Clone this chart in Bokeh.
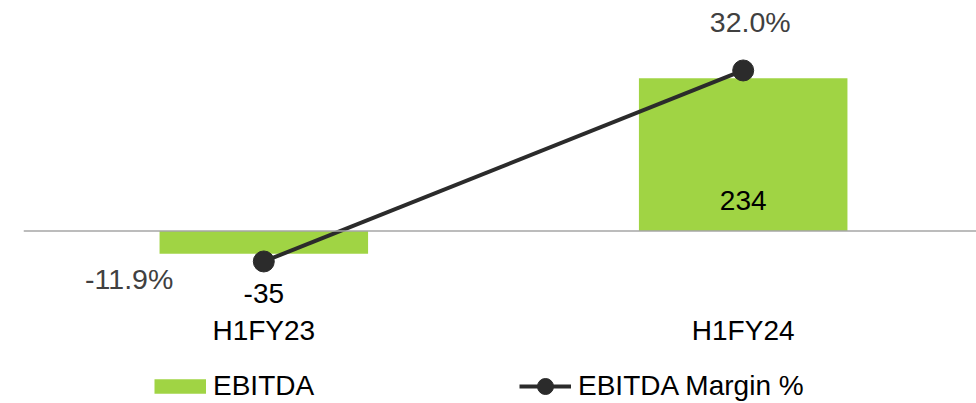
from bokeh.plotting import figure
from bokeh.layouts import column
from bokeh.models import (Range1d, Span, Legend, LegendItem, FixedTicker,
                          ColumnDataSource)
from bokeh.core.properties import value
from bokeh.embed import file_html
from bokeh.resources import INLINE

# ---- data ----
categories = ["H1FY23", "H1FY24"]
ebitda = [-35, 234]
margin = [-11.9, 32.0]
ebitda_labels = ["-35", "234"]
margin_labels = ["-11.9%", "32.0%"]
series_names = ["EBITDA", "EBITDA Margin %"]

# ---- styles ----
FONT = "Liberation Sans"
BAR = "#A0D444"
LINE = "#2B2B2B"
ZERO = "#A6A6A6"

xs = list(range(len(categories)))

p = figure(width=976, height=356, output_backend="svg", toolbar_location=None,
           x_range=Range1d(-0.5013, 1.4867), y_range=Range1d(-115.6, 353.0),
           y_axis_location=None,
           min_border_left=23, min_border_right=0, min_border_top=0,
           min_border_bottom=50, outline_line_color=None)
p.extra_y_ranges = {"pct": Range1d(-22.25, 48.08)}
p.xgrid.visible = False
p.ygrid.visible = False

ax = p.xaxis[0]
ax.ticker = FixedTicker(ticks=xs)
ax.major_label_overrides = {i: c for i, c in zip(xs, categories)}
ax.axis_line_color = None
ax.major_tick_line_color = None
ax.minor_tick_line_color = None
ax.major_tick_out = 0
ax.major_label_standoff = 8
ax.major_label_text_font = FONT
ax.major_label_text_font_size = "28px"
ax.major_label_text_color = "black"

# bars
p.vbar(x=xs, top=ebitda, bottom=0, width=0.435, fill_color=BAR, line_color=None)
p.add_layout(Span(location=0, dimension="width", line_color=ZERO, line_width=1.7))

# margin line
p.line(xs, margin, y_range_name="pct", line_color=LINE, line_width=4)
p.scatter(xs, margin, y_range_name="pct", size=21, fill_color=LINE, line_color=LINE)

# bar labels
bar_src = ColumnDataSource(dict(
    x=xs,
    y=[v if v < 0 else 0 for v in ebitda],
    dy=[39.7 if v < 0 else -30.5 for v in ebitda],
    t=ebitda_labels))
p.text(x="x", y="y", text="t", y_offset="dy", source=bar_src,
       text_align="center", text_baseline="middle", text_font=value(FONT),
       text_font_size="28px", text_color="black")

# margin labels
pct_src = ColumnDataSource(dict(
    x=xs, y=margin,
    dx=[-134.6 if v < 0 else 7 for v in margin],
    dy=[18 if v < 0 else -48.5 for v in margin],
    t=margin_labels))
p.text(x="x", y="y", text="t", x_offset="dx", y_offset="dy", source=pct_src,
       y_range_name="pct", text_align="center", text_baseline="middle",
       text_font=value(FONT), text_font_size="28.5px", text_color="#404040")

# ---- legend strip (separate figure; hidden swatch renderers carry the series) ----
lg = figure(width=976, height=47, output_backend="svg", toolbar_location=None,
            x_range=Range1d(0, 1), y_range=Range1d(0, 1),
            x_axis_location=None, y_axis_location=None,
            min_border_left=0, min_border_right=0, min_border_top=0,
            min_border_bottom=0, outline_line_color=None)
lg.xgrid.visible = False
lg.ygrid.visible = False
sw_bar = lg.line(x=xs, y=ebitda, line_color=BAR, line_width=14.4,
                 line_cap="butt", visible=False)
sw_line = lg.line(x=xs, y=margin, line_color=LINE, line_width=4, visible=False)
sw_pt = lg.scatter(x=xs, y=margin, size=16, fill_color=LINE, line_color=LINE,
                   visible=False)
legend = Legend(items=[LegendItem(label=series_names[0], renderers=[sw_bar]),
                       LegendItem(label=series_names[1], renderers=[sw_line, sw_pt])],
                orientation="horizontal", location=(131, -2.5),
                glyph_width=52, glyph_height=40, label_standoff=7,
                label_width=306, spacing=0, padding=0, margin=0,
                border_line_color=None, background_fill_alpha=0,
                inactive_fill_alpha=0,
                label_text_font=FONT, label_text_font_size="28px",
                label_text_color="black")
lg.add_layout(legend)

open("out.html", "w").write(file_html(column(p, lg, spacing=0), INLINE))
